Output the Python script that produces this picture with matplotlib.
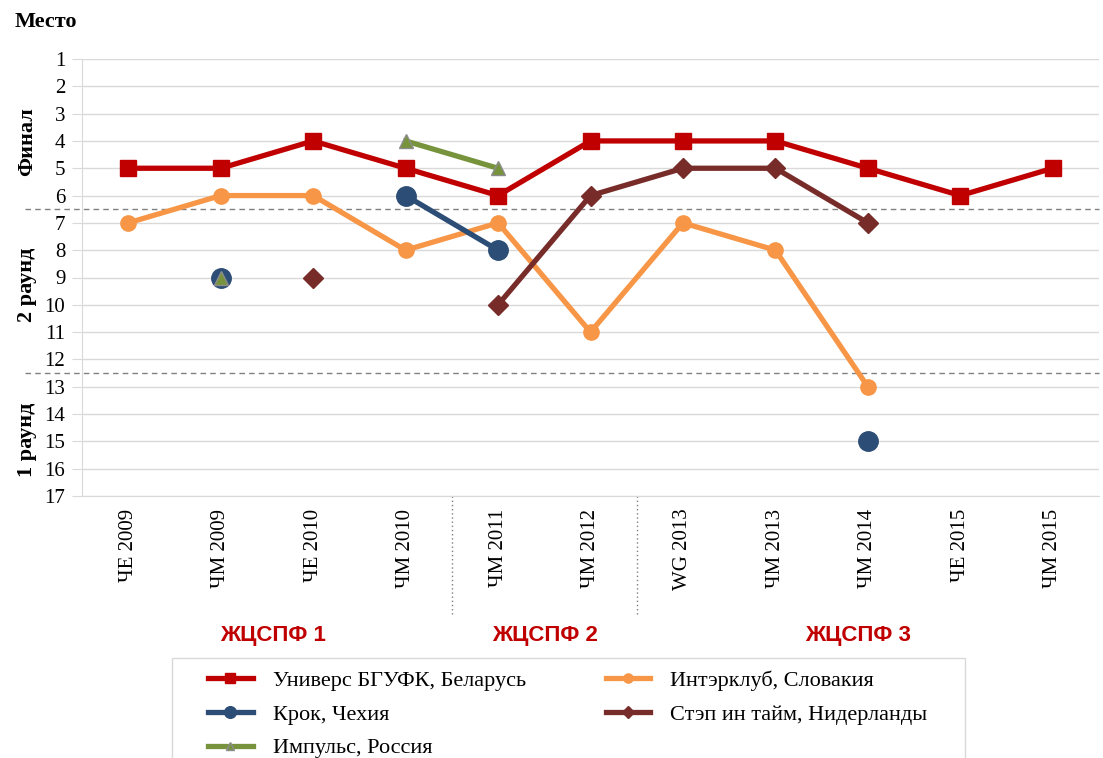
"""Places of teams at championships, three ЖЦСПФ cycles."""

import matplotlib
import matplotlib.pyplot as plt
import matplotlib.transforms as mtransforms
from matplotlib.patches import Rectangle
import numpy as np

matplotlib.use("Agg")

nan = np.nan

events = ["ЧЕ 2009", "ЧМ 2009", "ЧЕ 2010", "ЧМ 2010", "ЧМ 2011", "ЧМ 2012",
          "WG 2013", "ЧМ 2013", "ЧМ 2014", "ЧЕ 2015", "ЧМ 2015"]

univers = [5, 5, 4, 5, 6, 4, 4, 4, 5, 6, 5]
interklub = [7, 6, 6, 8, 7, 11, 7, 8, 13, nan, nan]
krok = [nan, 9, nan, 6, 8, nan, nan, nan, 15, nan, nan]
impuls = [nan, 9, nan, 4, 5, nan, nan, nan, nan, nan, nan]
step = [nan, nan, 9, nan, 10, 6, 5, 5, 7, nan, nan]

round_labels = ["Финал", "2 раунд", "1 раунд"]
cycle_labels = ["ЖЦСПФ 1", "ЖЦСПФ 2", "ЖЦСПФ 3"]

SERIF = ["Liberation Serif", "DejaVu Serif"]
SANS = ["Liberation Sans", "DejaVu Sans"]

W, H = 1103, 758
fig = plt.figure(figsize=(W / 100, H / 100), dpi=100)
ax = fig.add_axes([82 / W, 1 - 496 / H, (1099 - 82) / W, (496 - 59) / H])

x = np.arange(len(events))
lw = 3.8
ax.plot(x, univers, color="#C00000", lw=lw, marker="s", ms=12, zorder=5,
        label="Универс БГУФК, Беларусь")
ax.plot(x, interklub, color="#F79646", lw=lw, marker="o", ms=11, zorder=3,
        label="Интэрклуб, Словакия")
ax.plot(x, krok, color="#2C4D75", lw=lw, marker="o", ms=14, zorder=4,
        label="Крок, Чехия")
ax.plot(x, step, color="#772C2A", lw=lw, marker="D", ms=10, zorder=4,
        label="Стэп ин тайм, Нидерланды")
ax.plot(x, impuls, color="#77933C", lw=lw, marker="^", ms=10, mec="#8C8C8C",
        mew=1, zorder=6, label="Импульс, Россия")

ax.set_xlim(-0.5, len(events) - 0.5)
ax.set_ylim(17, 1)
ax.set_yticks(range(1, 18))
ax.set_xticks(x)
ax.set_xticklabels(events, rotation=90, family=SERIF, fontsize=15)
for lab in ax.get_yticklabels():
    lab.set_family(SERIF)
    lab.set_fontsize(15)
ax.tick_params(axis="y", length=7, color="#D9D9D9", pad=5)
ax.tick_params(axis="x", length=0, pad=9)
ax.grid(axis="y", color="#D9D9D9", lw=1)
ax.set_axisbelow(True)
for side in ["top", "right"]:
    ax.spines[side].set_visible(False)
ax.spines["left"].set_color("#D9D9D9")
ax.spines["bottom"].set_color("#D9D9D9")

# round borders, dashed across the whole width
hband = mtransforms.blended_transform_factory(fig.transFigure, ax.transData)
for yb in (6.5, 12.5):
    ax.plot([25 / W, 1099 / W], [yb, yb], transform=hband, color="#808080",
            lw=1, ls=(0, (4, 3)), clip_on=False, zorder=2)

# cycle borders under the axis
vband = mtransforms.blended_transform_factory(ax.transData, fig.transFigure)
for xb in (3.5, 5.5):
    ax.plot([xb, xb], [1 - 496 / H, 1 - 615 / H], transform=vband,
            color="#7F7F7F", lw=1, ls=(0, (1, 2)), clip_on=False)

fig.text(15 / W, 1 - 22 / H, "Место", family=SERIF, fontsize=16,
         fontweight="bold", va="center")
for label, yc in zip(round_labels, [142, 285, 440]):
    fig.text(27 / W, 1 - yc / H, label, family=SERIF, fontsize=16,
             fontweight="bold", rotation=90, ha="center", va="center")
for label, xc in zip(cycle_labels, [273, 545, 858]):
    fig.text(xc / W, 1 - 636 / H, label, family=SANS, fontsize=16,
             fontweight="bold", color="#C00000", ha="center", va="center")

# legend frame runs past the bottom edge, like in the source
fig.patches.append(Rectangle((172 / W, -0.05), (965 - 172) / W,
                             (758 - 658) / H + 0.05, transform=fig.transFigure,
                             fill=False, edgecolor="#D9D9D9", lw=1))
handles, labels = ax.get_legend_handles_labels()
order = [0, 2, 4, 1, 3]
fig.legend([handles[i] for i in order], [labels[i] for i in order],
           loc="upper left", bbox_to_anchor=(197 / W, 1 - 659 / H),
           ncol=2, frameon=False, prop={"family": SERIF, "size": 16},
           handlelength=2.0, handletextpad=0.9, columnspacing=3.6,
           labelspacing=0.6, borderpad=0, markerscale=0.6)

fig.savefig("out.png", dpi=100)
